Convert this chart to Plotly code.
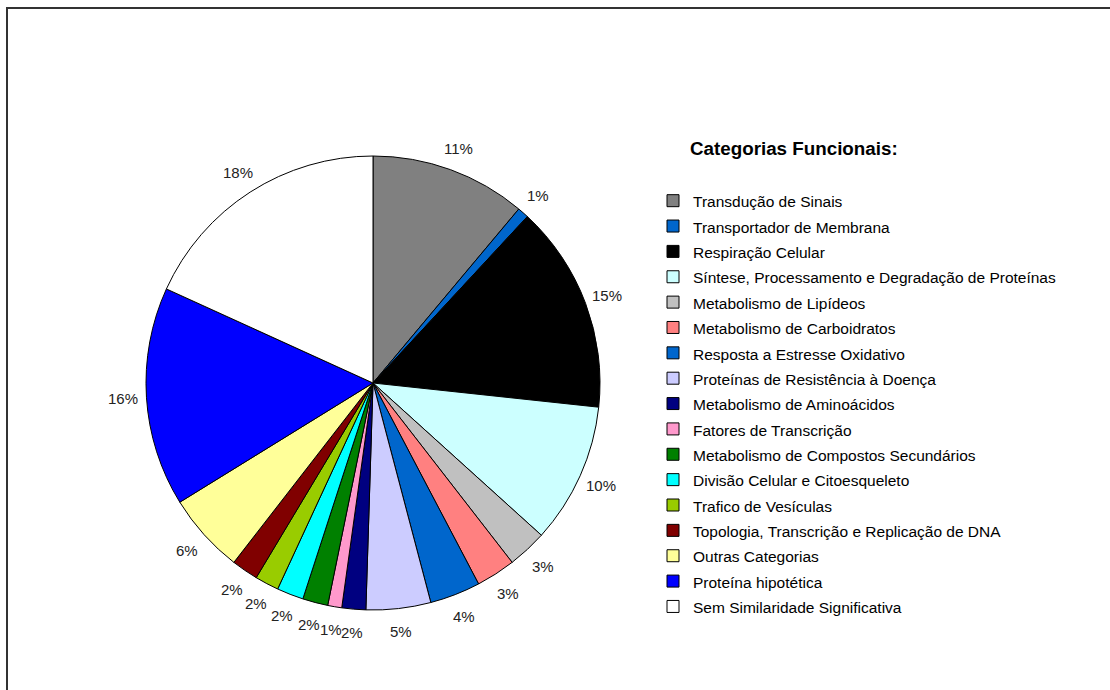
import math
import plotly.graph_objects as go

# Functional categories and their share of the annotated sequences (%)
categorias = [
    "Transdução de Sinais",
    "Transportador de Membrana",
    "Respiração Celular",
    "Síntese, Processamento e Degradação de Proteínas",
    "Metabolismo de Lipídeos",
    "Metabolismo de Carboidratos",
    "Resposta a Estresse Oxidativo",
    "Proteínas de Resistência à Doença",
    "Metabolismo de Aminoácidos",
    "Fatores de Transcrição",
    "Metabolismo de Compostos Secundários",
    "Divisão Celular e Citoesqueleto",
    "Trafico de Vesículas",
    "Topologia, Transcrição e Replicação de DNA",
    "Outras Categorias",
    "Proteína hipotética",
    "Sem Similaridade Significativa",
]
valores = [11.1, 0.8, 14.8, 10.0, 2.8, 2.8, 3.6, 4.6, 1.7, 1.0, 1.8, 1.9, 1.7, 1.9, 5.7, 15.6, 18.2]
cores = [
    "#808080", "#0066CC", "#000000", "#CCFFFF", "#C0C0C0", "#FF8080",
    "#0066CC", "#CCCCFF", "#000080", "#FF99CC", "#008000", "#00FFFF",
    "#99CC00", "#800000", "#FFFF99", "#0000FF", "#FFFFFF",
]

W, H = 1110, 690
cx, cy, r = 373, 383, 227      # pie centre and radius in pixels
label_r = 250                  # distance of the percentage labels from the centre
FONT = "Liberation Sans, Arial"

fig = go.Figure(
    go.Pie(
        labels=[f'<span style="font-size:15.5px">{c}</span>' for c in categorias],
        values=valores,
        sort=False,
        direction="clockwise",
        rotation=0,
        marker=dict(colors=cores, line=dict(color="#000000", width=1)),
        textinfo="none",
        hoverinfo="label+percent",
        domain=dict(
            x=[(cx - r) / W, (cx + r) / W],
            y=[(H - cy - r) / H, (H - cy + r) / H],
        ),
    )
)

# Percentage labels placed radially at the middle of each slice
total = sum(valores)
annotations = []
acum = 0.0
for v in valores:
    ang = 2 * math.pi * (acum + v / 2) / total
    acum += v
    px = cx + label_r * math.sin(ang)
    py = cy - label_r * math.cos(ang)
    annotations.append(
        dict(
            text=f"{v / total:.0%}",
            x=px / W,
            y=1 - py / H,
            xref="paper",
            yref="paper",
            xanchor="center",
            yanchor="middle",
            showarrow=False,
            font=dict(family=FONT, size=15, color="#222222"),
        )
    )

annotations.append(
    dict(
        text="<b>Categorias Funcionais:</b>",
        x=688 / W,
        y=1 - 148 / H,
        xref="paper",
        yref="paper",
        xanchor="left",
        yanchor="middle",
        showarrow=False,
        font=dict(family=FONT, size=18.8, color="#000000"),
    )
)

fig.update_layout(
    width=W,
    height=H,
    margin=dict(l=0, r=0, t=0, b=0),
    paper_bgcolor="white",
    plot_bgcolor="white",
    showlegend=True,
    legend=dict(
        x=653 / W,
        y=1 - 183 / H,
        xanchor="left",
        yanchor="top",
        font=dict(family=FONT, size=17.2, color="#000000"),
        bgcolor="rgba(0,0,0,0)",
        itemclick=False,
    ),
    annotations=annotations,
    shapes=[
        dict(
            type="rect",
            xref="paper",
            yref="paper",
            x0=7 / W,
            x1=1.02,
            y0=-0.02,
            y1=1 - 8 / H,
            line=dict(color="#333333", width=2),
            fillcolor="rgba(0,0,0,0)",
        )
    ],
)

fig.write_html("out.html")
